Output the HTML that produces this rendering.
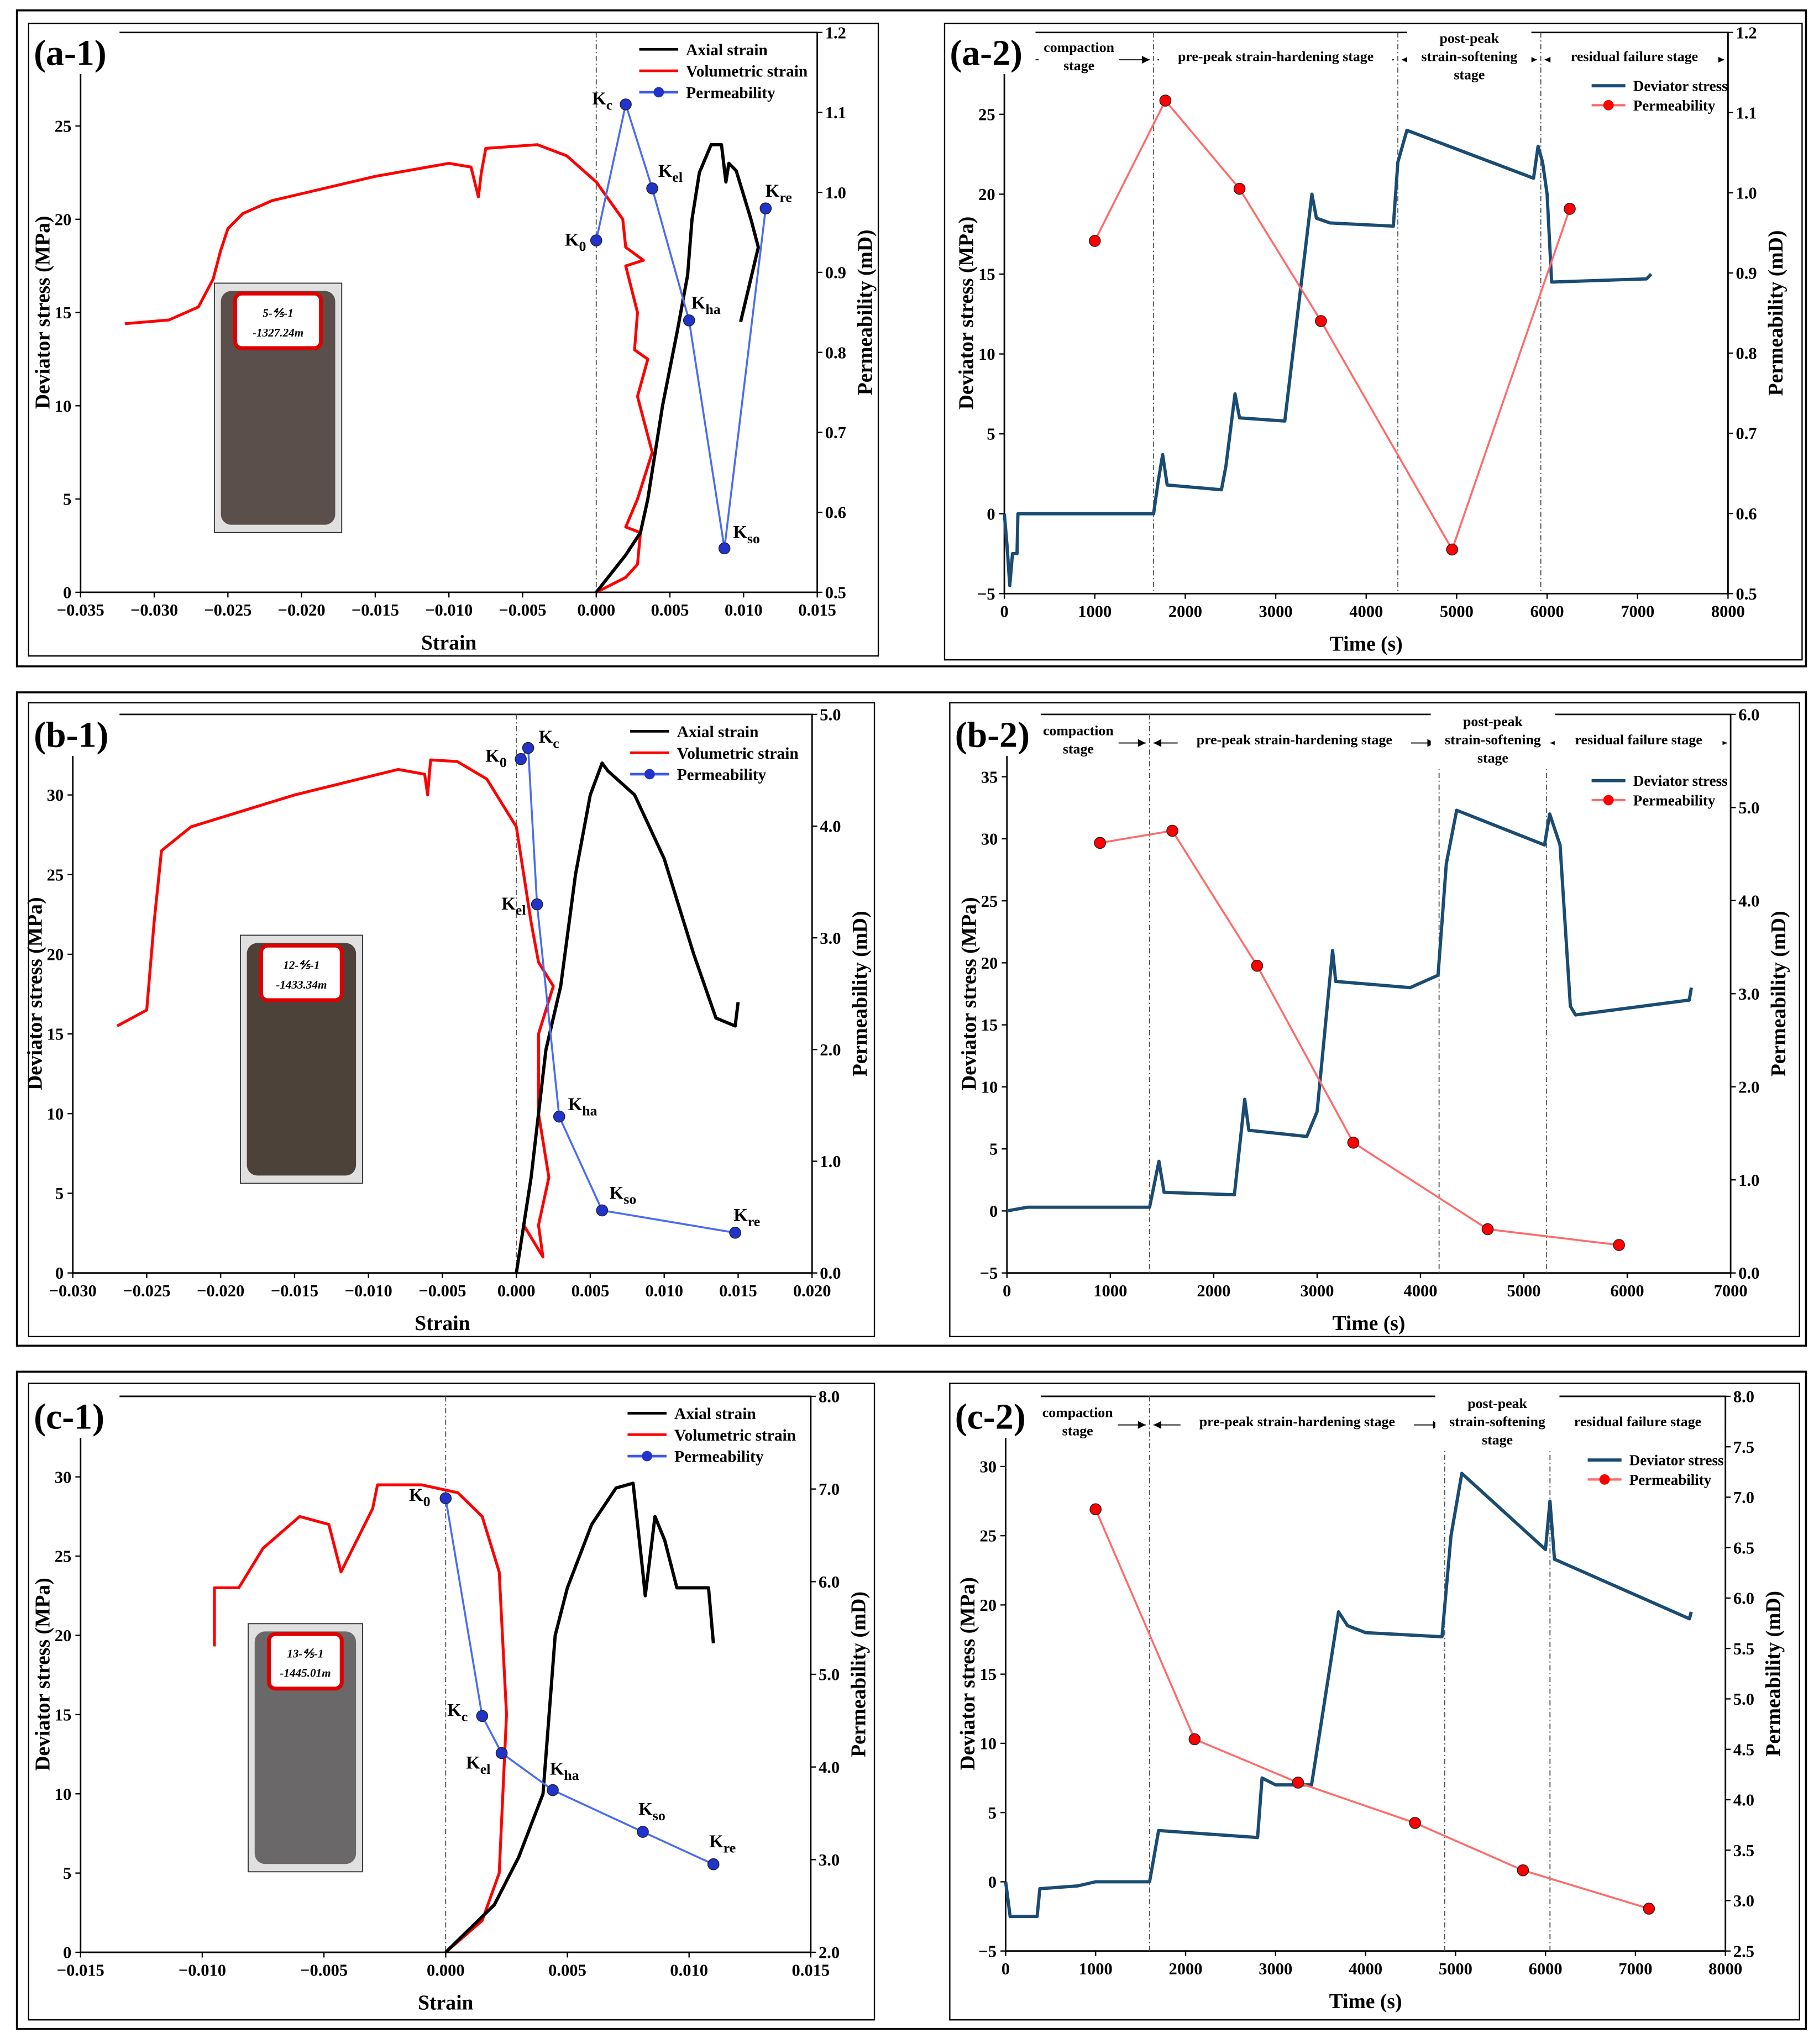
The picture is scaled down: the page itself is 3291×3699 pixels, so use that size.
<!DOCTYPE html>
<html><head><meta charset="utf-8"><style>
html,body{margin:0;padding:0;background:#fff}
svg{display:block}
text{font-family:"Liberation Serif",serif;font-weight:bold}
</style></head><body>
<svg id="fig" width="3291" height="3699" viewBox="0 0 1400 1573.6" xmlns="http://www.w3.org/2000/svg"></svg>
<script>
// ===== data =====
const a1Axial=[[0,0],[0.001,1],[0.002,2],[0.003,3.2],[0.0035,5],[0.0045,10],[0.0055,14],[0.0062,17],[0.0065,20],[0.007,22.5],[0.0078,24],[0.0085,24],[0.0088,22],[0.009,23],[0.0095,22.6],[0.0105,20],[0.011,18.5],[0.0098,14.5]];
const a1Vol=[[-0.032,14.4],[-0.029,14.6],[-0.027,15.3],[-0.026,16.8],[-0.0255,18.3],[-0.025,19.5],[-0.024,20.3],[-0.022,21],[-0.015,22.3],[-0.01,23],[-0.0085,22.8],[-0.008,21.2],[-0.0078,22.5],[-0.0075,23.8],[-0.004,24],[-0.002,23.4],[0,22],[0.0018,20],[0.002,18.5],[0.0032,17.8],[0.002,17.5],[0.0028,15],[0.0026,13],[0.0035,12.5],[0.0028,10.5],[0.0038,7.5],[0.0028,5],[0.002,3.5],[0.003,3.2],[0.0028,1.5],[0.002,0.8],[0,0]];
const a1PermX=[0,0.002,0.0038,0.0063,0.0087,0.0115];
const a1PermY=[0.94,1.11,1.005,0.84,0.555,0.98];
const a2Stress=[[0,0],[30,-2],[60,-4.5],[90,-2.5],[140,-2.5],[150,0],[1650,0],[1700,2],[1750,3.7],[1800,1.8],[2400,1.5],[2450,3],[2550,7.5],[2600,6],[3100,5.8],[3400,20],[3450,18.5],[3600,18.2],[4300,18],[4350,22],[4450,24],[5850,21],[5900,23],[5950,22],[6000,20],[6050,14.5],[7100,14.7],[7150,15]];
const a2PermX=[1000,1780,2600,3500,4950,6250];
const a2PermY=[0.94,1.115,1.005,0.84,0.555,0.98];
const b1Axial=[[0,0],[0.0005,3],[0.001,6],[0.0015,10],[0.002,14],[0.003,18],[0.004,25],[0.005,30],[0.0058,32],[0.0062,31.5],[0.008,30],[0.01,26],[0.012,20],[0.0135,16],[0.0148,15.5],[0.015,17]];
const b1Vol=[[-0.027,15.5],[-0.025,16.5],[-0.0245,22],[-0.024,26.5],[-0.022,28],[-0.015,30],[-0.008,31.6],[-0.0062,31.3],[-0.006,30],[-0.0058,32.2],[-0.004,32.1],[-0.002,31],[0,28],[0.001,22],[0.0015,19.5],[0.0025,18],[0.0015,15],[0.0015,10],[0.0022,6],[0.0015,3],[0.0018,1],[0.0005,3],[0,0]];
const b1PermX=[0.0003,0.0008,0.0014,0.0029,0.0058,0.0148];
const b1PermY=[4.6,4.7,3.3,1.4,0.56,0.36];
const b2Stress=[[0,0],[200,0.3],[1380,0.3],[1470,4],[1520,1.5],[2200,1.3],[2300,9],[2340,6.5],[2900,6],[3000,8],[3150,21],[3180,18.5],[3900,18],[4170,19],[4250,28],[4350,32.3],[5200,29.5],[5250,32],[5350,29.5],[5450,16.5],[5500,15.8],[6600,17],[6620,18]];
const b2PermX=[900,1600,2420,3350,4650,5920];
const b2PermY=[4.62,4.75,3.3,1.4,0.47,0.3];
const c1Axial=[[0,0],[0.002,3],[0.003,6],[0.004,10],[0.0045,20],[0.005,23],[0.006,27],[0.007,29.3],[0.0077,29.6],[0.0081,24],[0.0082,22.5],[0.0086,27.5],[0.009,26],[0.0095,23],[0.0108,23],[0.011,19.5]];
const c1Vol=[[-0.0095,19.3],[-0.0095,23],[-0.0085,23],[-0.0075,25.5],[-0.006,27.5],[-0.0048,27],[-0.0043,24],[-0.003,28],[-0.0028,29.5],[-0.001,29.5],[0.0005,29],[0.0015,27.5],[0.0022,24],[0.0025,15],[0.0022,5],[0.0015,2],[0,0]];
const c1PermX=[0,0.0015,0.0023,0.0044,0.0081,0.011];
const c1PermY=[6.9,4.55,4.15,3.75,3.3,2.95];
const c2Stress=[[0,0],[50,-2.5],[350,-2.5],[380,-0.5],[800,-0.3],[1000,0],[1600,0],[1700,3.7],[2800,3.2],[2850,7.5],[3000,7],[3400,7],[3700,19.5],[3800,18.5],[4000,18],[4850,17.7],[4950,25],[5070,29.5],[6000,24],[6050,27.5],[6100,23.3],[7600,19],[7620,19.5]];
const c2PermX=[1000,2100,3250,4550,5750,7150];
const c2PermY=[6.88,4.6,4.17,3.77,3.3,2.92];
const kNames=["0","c","el","ha","so","re"];
const a2Dividers=[1650,4350,5930];
const b2Dividers=[1380,4180,5220];
const c2Dividers=[1600,4880,6050];

// ===== drawing =====
const NS="http://www.w3.org/2000/svg";
const svg=document.getElementById('fig');
function el(tag,attrs,parent){const e=document.createElementNS(NS,tag);for(const k in attrs)e.setAttribute(k,attrs[k]);(parent||svg).appendChild(e);return e;}
function txt(x,y,s,size,parent,anchor,extra){const t=el('text',Object.assign({x:x,y:y,'font-size':size,'text-anchor':anchor||'middle'},extra||{}),parent);t.textContent=s;return t;}
function lin(d0,d1,p0,p1){return v=>p0+(v-d0)/(d1-d0)*(p1-p0);}
function fmtNeg(v,dec){const s=Math.abs(v).toFixed(dec);return (v<-1e-12?'\u2212':'')+s;}

function outer(x,y,w,h,name){const r=el('rect',{x:x,y:y,width:w,height:h,fill:'none',stroke:'#000','stroke-width':1.5});}
outer(13,8,1377,505,'row-a-border');outer(13,533,1377,503,'row-b-border');outer(13,1056,1377,506,'row-c-border');

function panel(c){
  const g=el('g',{});
  
  
  const b=el('rect',{x:c.box[0],y:c.box[1],width:c.box[2],height:c.box[3],fill:'#fff',stroke:'#000','stroke-width':1},g);
  
  const X=lin(c.xd[0],c.xd[1],c.x0,c.x1), YL=lin(c.yLd[0],c.yLd[1],c.yb,c.yLtop), YR=lin(c.yRd[0],c.yRd[1],c.yb,c.top);
  const fr=el('path',{d:`M${c.x0},${c.top}V${c.yb}H${c.x1}V${c.top}H${c.x0}`,fill:'none',stroke:'#000','stroke-width':1.2},g);
  
  for(let v=c.xd[0];v<=c.xd[1]+1e-9;v+=c.xstep){const x=X(v);el('line',{x1:x,y1:c.yb,x2:x,y2:c.yb+4,stroke:'#000'},g);const t=txt(x,c.yb+18,fmtNeg(v,c.xdec),13,g);}
  for(let v=c.yLt[0];v<=c.yLt[1]+1e-9;v+=c.yLt[2]){const y=YL(v);el('line',{x1:c.x0-4,y1:y,x2:c.x0,y2:y,stroke:'#000'},g);const t=txt(c.x0-7,y+4.5,fmtNeg(v,0),13,g,'end');}
  for(let v=c.yRd[0];v<=c.yRd[1]+1e-9;v+=c.yRstep){const y=YR(v);el('line',{x1:c.x1,y1:y,x2:c.x1+4,y2:y,stroke:'#000'},g);const t=txt(c.x1+6,y+4.5,v.toFixed(1),13,g,'start');}
  const xt=txt((c.x0+c.x1)/2,c.yb+44,c.xTitle,16,g);
  const yl=txt(0,0,'Deviator stress (MPa)',16,g,'middle',{transform:`translate(${c.x0-24},${(c.top+c.yb)/2}) rotate(-90)`});
  const yr=txt(0,0,'Permeability (mD)',16,g,'middle',{transform:`translate(${c.x1+42},${(c.top+c.yb)/2}) rotate(-90)`});
  c.g=g;
  return {g,X,YL,YR,c};
}
function panelLabel(p){const c=p.c;el('rect',{x:c.box[0]+2,y:c.top-4,width:68,height:36,fill:'#fff'},p.g);const lb=txt(c.box[0]+4,c.top+25,c.label,28,p.g,'start');}
function poly(g,pts,X,Y,color,w,name){const d=pts.map((p,i)=>(i?'L':'M')+X(p[0]).toFixed(2)+','+Y(p[1]).toFixed(2)).join('');const p=el('path',{d:d,fill:'none',stroke:color,'stroke-width':w,'stroke-linejoin':'round'},g);}
function perm(g,xs,ys,X,Y,line,dot,name){const d=xs.map((v,i)=>(i?'L':'M')+X(v).toFixed(2)+','+Y(ys[i]).toFixed(2)).join('');const p=el('path',{d:d,fill:'none',stroke:line,'stroke-width':1.5},g);
  xs.forEach((v,i)=>{const c=el('circle',{cx:X(v),cy:Y(ys[i]),r:4.3,fill:dot,stroke:'#222','stroke-width':0.6},g);});}
function vdash(g,x,y0,y1){const l=el('line',{x1:x,y1:y0,x2:x,y2:y1,stroke:'#555','stroke-width':0.8,'stroke-dasharray':'4,2,1,2'},g);}
function kLabels(g,xs,ys,X,Y,offs){xs.forEach((v,i)=>{const t=el('text',{x:X(v)+offs[i][0],y:Y(ys[i])+offs[i][1],'font-size':14,'text-anchor':'middle'},g);t.appendChild(document.createTextNode('K'));const s=el('tspan',{dy:4,'font-size':11},t);s.textContent=kNames[i];});}
function legend1(g,x,y){[['Axial strain','#000',false],['Volumetric strain','#f00',false],['Permeability','#3a5ae8',true]].forEach((e,i)=>{const yy=y+i*16.5;el('line',{x1:x,y1:yy,x2:x+30,y2:yy,stroke:e[1],'stroke-width':2},g);if(e[2])el('circle',{cx:x+15,cy:yy,r:4,fill:'#2233cc'},g);const t=txt(x+36,yy+4.5,e[0],12.5,g,'start');});}
function legend2(g,x,y){el('line',{x1:x,y1:y,x2:x+26,y2:y,stroke:'#1a4c73','stroke-width':2.5},g);let t=txt(x+32,y+4,'Deviator stress',11.5,g,'start');
  el('line',{x1:x,y1:y+15,x2:x+26,y2:y+15,stroke:'#ff6b6b','stroke-width':1.8},g);el('circle',{cx:x+13,cy:y+15,r:4,fill:'#f00'},g);t=txt(x+32,y+19,'Permeability',11.5,g,'start');}
function photo(g,x,y,w,h,lines,dark){const gr=el('g',{},g);
  el('rect',{x:x,y:y,width:w,height:h,fill:'#e0e0e0',stroke:'#333','stroke-width':0.8},gr);
  el('rect',{x:x+5,y:y+6,width:w-10,height:h-12,rx:8,fill:dark},gr);
  el('rect',{x:x+16,y:y+8,width:w-32,height:42,rx:5,fill:'#fff',stroke:'#d00','stroke-width':3},gr);
  lines.forEach((s,i)=>{txt(x+w/2,y+26+i*15,s,9,gr,'middle',{'font-style':'italic','font-weight':'normal'});});}
function stages(g,X,dv,xmin,xmax,y,texts){const bounds=[xmin].concat(dv).concat([xmax]);
  for(let i=0;i<4;i++){const a=X(bounds[i])+3,b=X(bounds[i+1])-3;const l=el('line',{x1:a,y1:y,x2:b,y2:y,stroke:'#000','stroke-width':0.8},g);
    el('path',{d:`M${b},${y}l-6,-3v6z`,fill:'#000'},g);el('path',{d:`M${a},${y}l6,-3v6z`,fill:'#000'},g);
    const cx=(X(bounds[i])+X(bounds[i+1]))/2;const ls=texts[i];const w=Math.max(...ls.map(s=>s.length))*5.6+6;const h=ls.length*14;
    el('rect',{x:cx-w/2,y:y-h/2-3,width:w,height:h+2,fill:'#fff'},g);
    ls.forEach((s,j)=>{const t=txt(cx,y-h/2+8+j*14,s,11,g);});}}

// ---- a-1
let p=panel({name:'panel-a1',box:[22,18,654,487],x0:62,x1:629,top:25,yb:456,yLtop:97,xd:[-0.035,0.015],xstep:0.005,xdec:3,yLd:[0,25],yLt:[0,25,5],yRd:[0.5,1.2],yRstep:0.1,xTitle:'Strain',label:'(a-1)'});
vdash(p.g,p.X(0),25,456);
photo(p.g,165,218,98,192,['5-\u2158-1','-1327.24m'],'#5a4f4a');
poly(p.g,a1Vol,p.X,p.YL,'#f00',2.2,'volumetric-strain-curve');
poly(p.g,a1Axial,p.X,p.YL,'#000',2.5,'axial-strain-curve');
perm(p.g,a1PermX,a1PermY,p.X,p.YR,'#4a6cf0','#2233cc','permeability-line');
kLabels(p.g,a1PermX,a1PermY,p.X,p.YR,[[-16,4],[-18,0],[14,-9],[13,-9],[17,-8],[10,-9]]);
legend1(p.g,492,38);
panelLabel(p);
// ---- a-2
p=panel({name:'panel-a2',box:[727,18,660,490],x0:773,x1:1330,top:25,yb:457,yLtop:88,xd:[0,8000],xstep:1000,xdec:0,yLd:[-5,25],yLt:[-5,25,5],yRd:[0.5,1.2],yRstep:0.1,xTitle:'Time (s)',label:'(a-2)'});
a2Dividers.forEach(v=>vdash(p.g,p.X(v),25,457));
stages(p.g,p.X,a2Dividers,0,8000,46,[['compaction','stage'],['pre-peak strain-hardening stage'],['post-peak','strain-softening','stage'],['residual failure stage']]);
poly(p.g,a2Stress,p.X,p.YL,'#1a4c73',2.5,'deviator-stress-curve');
perm(p.g,a2PermX,a2PermY,p.X,p.YR,'#ff6b6b','#f00','permeability-line');
legend2(p.g,1225,66);
panelLabel(p);
// ---- b-1
p=panel({name:'panel-b1',box:[22,541,651,488],x0:56,x1:625,top:550,yb:980,yLtop:612,xd:[-0.03,0.02],xstep:0.005,xdec:3,yLd:[0,30],yLt:[0,30,5],yRd:[0,5],yRstep:1,xTitle:'Strain',label:'(b-1)'});
vdash(p.g,p.X(0),550,980);
photo(p.g,185,720,94,191,['12-\u2158-1','-1433.34m'],'#4d423a');
poly(p.g,b1Vol,p.X,p.YL,'#f00',2.2,'volumetric-strain-curve');
poly(p.g,b1Axial,p.X,p.YL,'#000',2.5,'axial-strain-curve');
perm(p.g,b1PermX,b1PermY,p.X,p.YR,'#4a6cf0','#2233cc','permeability-line');
kLabels(p.g,b1PermX,b1PermY,p.X,p.YR,[[-19,2],[16,-4],[-18,4],[18,-5],[16,-9],[9,-9]]);
legend1(p.g,485,563);
panelLabel(p);
// ---- b-2
p=panel({name:'panel-b2',box:[731,541,654,488],x0:775,x1:1332,top:550,yb:980,yLtop:598,xd:[0,7000],xstep:1000,xdec:0,yLd:[-5,35],yLt:[-5,35,5],yRd:[0,6],yRstep:1,xTitle:'Time (s)',label:'(b-2)'});
b2Dividers.forEach(v=>vdash(p.g,p.X(v),550,980));
stages(p.g,p.X,b2Dividers,0,7000,572,[['compaction','stage'],['pre-peak strain-hardening stage'],['post-peak','strain-softening','stage'],['residual failure stage']]);
poly(p.g,b2Stress,p.X,p.YL,'#1a4c73',2.5,'deviator-stress-curve');
perm(p.g,b2PermX,b2PermY,p.X,p.YR,'#ff6b6b','#f00','permeability-line');
legend2(p.g,1225,601);
panelLabel(p);
// ---- c-1
p=panel({name:'panel-c1',box:[22,1065,651,490],x0:62,x1:624,top:1075,yb:1503,yLtop:1137,xd:[-0.015,0.015],xstep:0.005,xdec:3,yLd:[0,30],yLt:[0,30,5],yRd:[2,8],yRstep:1,xTitle:'Strain',label:'(c-1)'});
vdash(p.g,p.X(0),1075,1503);
photo(p.g,191,1250,88,191,['13-\u2158-1','-1445.01m'],'#6a6868');
poly(p.g,c1Vol,p.X,p.YL,'#f00',2.2,'volumetric-strain-curve');
poly(p.g,c1Axial,p.X,p.YL,'#000',2.5,'axial-strain-curve');
perm(p.g,c1PermX,c1PermY,p.X,p.YR,'#4a6cf0','#2233cc','permeability-line');
kLabels(p.g,c1PermX,c1PermY,p.X,p.YR,[[-20,2],[-19,0],[-18,12],[9,-12],[7,-13],[7,-13]]);
legend1(p.g,483,1088);
panelLabel(p);
// ---- c-2
p=panel({name:'panel-c2',box:[731,1065,654,490],x0:774,x1:1328,top:1075,yb:1502,yLtop:1129,xd:[0,8000],xstep:1000,xdec:0,yLd:[-5,30],yLt:[-5,30,5],yRd:[2.5,8],yRstep:0.5,xTitle:'Time (s)',label:'(c-2)'});
c2Dividers.forEach(v=>vdash(p.g,p.X(v),1075,1502));
stages(p.g,p.X,c2Dividers,0,8000,1097,[['compaction','stage'],['pre-peak strain-hardening stage'],['post-peak','strain-softening','stage'],['residual failure stage']]);
poly(p.g,c2Stress,p.X,p.YL,'#1a4c73',2.5,'deviator-stress-curve');
perm(p.g,c2PermX,c2PermY,p.X,p.YR,'#ff6b6b','#f00','permeability-line');
legend2(p.g,1222,1124);
panelLabel(p);
</script>
</body></html>
